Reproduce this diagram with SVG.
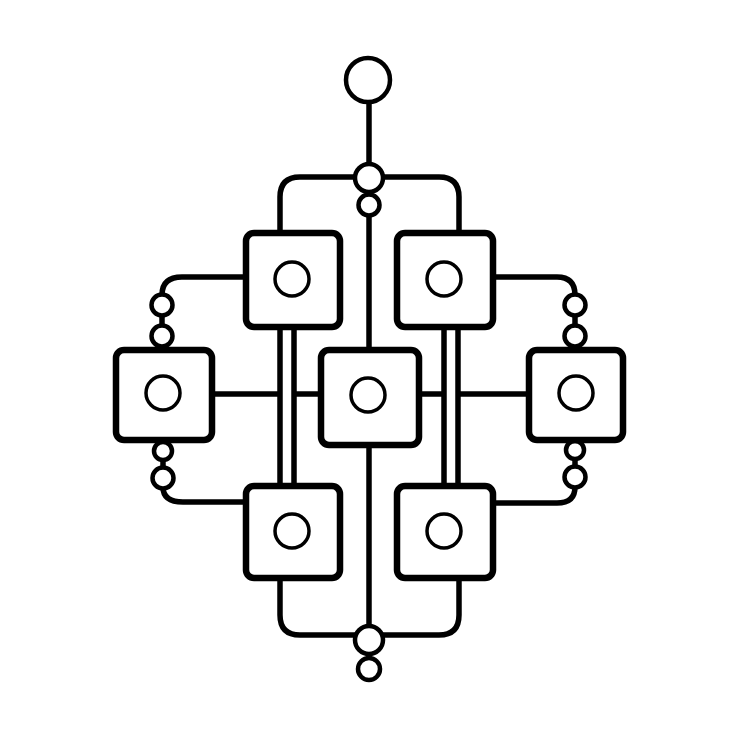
<svg xmlns="http://www.w3.org/2000/svg" width="740" height="740" viewBox="0 0 740 740">
<style>
.bg{fill:#ffffff}
.ln{fill:none;stroke:#000;stroke-width:5.5;stroke-linecap:butt;stroke-linejoin:round}
.box{fill:#fff;stroke:#000;stroke-width:6.5}
.inner{fill:#fff;stroke:#000;stroke-width:3.5}
.dot{fill:#fff;stroke:#000;stroke-width:4.5}
</style>
<rect class="bg" x="0" y="0" width="740" height="740"/>
<g id="connectors">
  <path class="ln" d="M369 100 V166"/>
  <path class="ln" d="M280 233 V197 Q280 177 300 177 H357"/>
  <path class="ln" d="M381 177 H439 Q459 177 459 197 V233"/>
  <path class="ln" d="M369 213 V350"/>
  <path class="ln" d="M369 445 V628"/>
  <path class="ln" d="M280 578 V615 Q280 635 300 635 H357"/>
  <path class="ln" d="M381 635 H439 Q459 635 459 615 V578"/>
  <path class="ln" d="M280 327 V486 M294 327 V486"/>
  <path class="ln" d="M444 327 V486 M458 327 V486"/>
  <path class="ln" d="M212 394 H280 M294 394 H321 M419 394 H444 M458 394 H529"/>
  <path class="ln" d="M246 277 H182 Q162 277 162 295"/>
  <path class="ln" d="M162 315 V326"/>
  <path class="ln" d="M163 459 V469"/>
  <path class="ln" d="M163 487 Q163 502 183 502 H246"/>
  <path class="ln" d="M493 277 H557 Q575 277 575 295"/>
  <path class="ln" d="M575 315 V326"/>
  <path class="ln" d="M575 458 V467"/>
  <path class="ln" d="M575 487 Q575 503 557 503 H493"/>
</g>
<g id="top-node"><circle class="dot" cx="368" cy="80" r="22"/></g>
<g id="junction-top"><circle class="dot" cx="369" cy="178" r="14"/></g>
<g id="junction-top-small"><circle class="dot" cx="369" cy="205" r="10.5"/></g>
<g id="junction-bottom"><circle class="dot" cx="369" cy="640" r="14"/></g>
<g id="junction-bottom-small"><circle class="dot" cx="369" cy="669" r="11"/></g>
<g id="left-dot-1"><circle class="dot" cx="162" cy="305" r="10.5"/></g>
<g id="left-dot-2"><circle class="dot" cx="162" cy="336" r="10.5"/></g>
<g id="left-dot-3"><circle class="dot" cx="163" cy="451" r="9"/></g>
<g id="left-dot-4"><circle class="dot" cx="163" cy="478" r="10.5"/></g>
<g id="right-dot-1"><circle class="dot" cx="575" cy="305" r="10.5"/></g>
<g id="right-dot-2"><circle class="dot" cx="575" cy="336" r="10.5"/></g>
<g id="right-dot-3"><circle class="dot" cx="575" cy="450" r="9"/></g>
<g id="right-dot-4"><circle class="dot" cx="575" cy="477" r="10.5"/></g>
<g id="box-top-left"><rect class="box" x="246" y="233" width="94" height="94" rx="8"/><circle class="inner" cx="292" cy="279" r="17"/></g>
<g id="box-top-right"><rect class="box" x="397" y="233" width="96" height="94" rx="8"/><circle class="inner" cx="444" cy="279" r="17"/></g>
<g id="box-left"><rect class="box" x="116" y="350" width="96" height="90" rx="8"/><circle class="inner" cx="163" cy="393" r="17"/></g>
<g id="box-center"><rect class="box" x="321" y="350" width="98" height="95" rx="8"/><circle class="inner" cx="368" cy="395" r="17"/></g>
<g id="box-right"><rect class="box" x="529" y="350" width="94" height="90" rx="8"/><circle class="inner" cx="576" cy="393" r="17"/></g>
<g id="box-bottom-left"><rect class="box" x="246" y="486" width="94" height="92" rx="8"/><circle class="inner" cx="292" cy="531" r="17"/></g>
<g id="box-bottom-right"><rect class="box" x="397" y="486" width="96" height="92" rx="8"/><circle class="inner" cx="444" cy="531" r="17"/></g>
</svg>
